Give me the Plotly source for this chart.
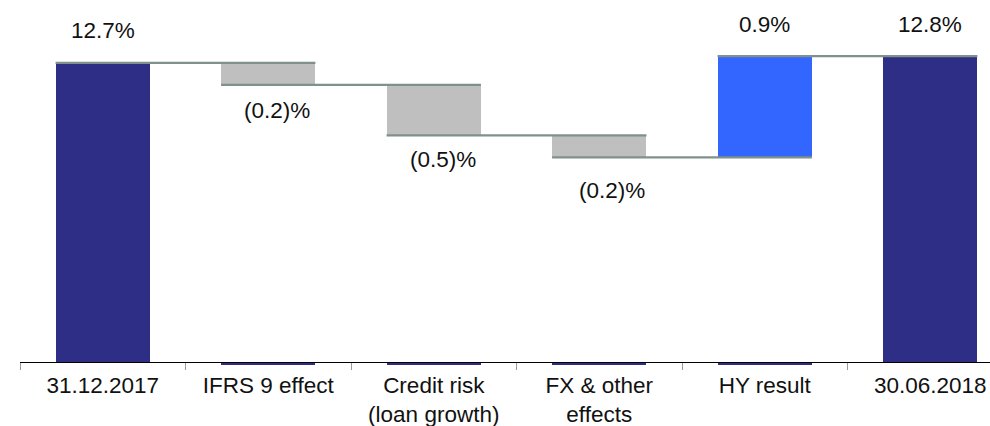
import plotly.graph_objects as go

# ---- data ----
categories = ["31.12.2017", "IFRS 9 effect", "Credit risk<br>(loan growth)",
              "FX & other<br>effects", "HY result", "30.06.2018"]
start_value = 12.72
deltas = [-0.20, -0.46, -0.20, 0.92]
end_value = 12.78
value_labels = ["12.7%", "(0.2)%", "(0.5)%", "(0.2)%", "0.9%", "12.8%"]
axis_origin = 10.0

# ---- style ----
NAVY = "#2E2E86"
BLUE = "#3366FF"
GREY = "#BFBFBF"
CONN = "#7F908D"
FONT = "Liberation Sans, Arial, sans-serif"
FSIZE = 22.5
BAR_W = 0.57
PX_PER_UNIT = 110.0
label_xshift = [0, 9, 9, 13, 0, 0]
label_yshift_neg = [0, -26, -24, -33, 0, 0]

# ---- derived levels ----
levels = [start_value]
for d in deltas:
    levels.append(levels[-1] + d)

n = len(categories)

fig = go.Figure()

# totals
fig.add_trace(go.Bar(
    x=[categories[0], categories[-1]],
    y=[start_value - axis_origin, end_value - axis_origin],
    base=[axis_origin, axis_origin],
    width=BAR_W, marker=dict(color=NAVY, line=dict(width=0)),
    hoverinfo="skip", showlegend=False))

# deltas
for i, d in enumerate(deltas):
    lo = min(levels[i], levels[i + 1])
    fig.add_trace(go.Bar(
        x=[categories[i + 1]], y=[abs(d)], base=[lo],
        width=BAR_W, marker=dict(color=GREY if d < 0 else BLUE, line=dict(width=0)),
        hoverinfo="skip", showlegend=False))

# thin base slivers below the axis for the middle categories
sliver = 3.0 / PX_PER_UNIT
fig.add_trace(go.Bar(
    x=categories[1:-1], y=[sliver] * (n - 2), base=[axis_origin - sliver] * (n - 2),
    width=BAR_W, marker=dict(color=NAVY, line=dict(width=0)),
    hoverinfo="skip", showlegend=False))

# connectors (on overlay linear axis)
for i in range(n - 1):
    y = levels[i]
    fig.add_trace(go.Scatter(
        x=[i - BAR_W / 2, i + 1 + BAR_W / 2], y=[y, y],
        mode="lines", line=dict(color=CONN, width=2.2),
        xaxis="x2", yaxis="y", hoverinfo="skip", showlegend=False))

# value labels
tops = [start_value] + [max(levels[i], levels[i + 1]) for i in range(len(deltas))] + [end_value]
bottoms = [axis_origin] + [min(levels[i], levels[i + 1]) for i in range(len(deltas))] + [axis_origin]
for i in range(n):
    positive = i == 0 or i == n - 1 or deltas[i - 1] > 0
    fig.add_annotation(
        x=i + label_xshift[i] / 165.5, y=tops[i] if positive else bottoms[i],
        xref="x2", yref="y", text=value_labels[i], showarrow=False,
        yshift=32 if positive else label_yshift_neg[i],
        yanchor="middle", xanchor="center",
        font=dict(family=FONT, size=FSIZE, color="#111111"))

# layout geometry
H = 426
top_m, bot_m = 20, 60
plot_bottom_px = H - bot_m
axis_px = 362
ymin = axis_origin - (plot_bottom_px - axis_px) / PX_PER_UNIT
ymax = axis_origin + (axis_px - top_m) / PX_PER_UNIT
xrange = [-0.5, 5.5 - 23 / 165.5]

fig.update_layout(
    width=990, height=H,
    margin=dict(l=20, r=0, t=top_m, b=bot_m),
    paper_bgcolor="white", plot_bgcolor="white",
    barmode="overlay", bargap=0,
    showlegend=False,
    xaxis=dict(type="category", categoryorder="array", categoryarray=categories,
               range=xrange, anchor="free",
               position=(plot_bottom_px - axis_px) / (H - top_m - bot_m),
               showline=True, linecolor="black", linewidth=1,
               ticks="outside", tickson="boundaries", ticklen=7, tickcolor="#9A9A9A",
               tickwidth=1.2, showgrid=False, zeroline=False,
               ticklabelstandoff=3,
               tickfont=dict(family=FONT, size=FSIZE, color="#111111")),
    xaxis2=dict(overlaying="x", range=xrange, visible=False, anchor="y"),
    yaxis=dict(range=[ymin, ymax], visible=False, showgrid=False, zeroline=False),
)

fig.write_html("out.html")
